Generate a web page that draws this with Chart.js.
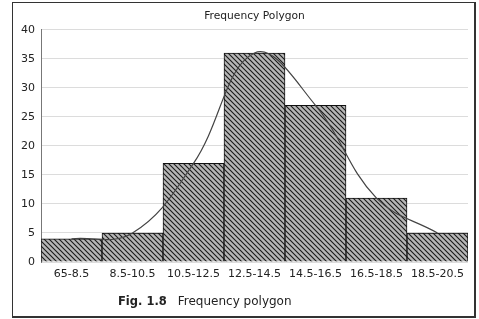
<!DOCTYPE html>
<html>
<head>
<meta charset="utf-8">
<script src="https://cdn.jsdelivr.net/npm/chart.js@4.4.0/dist/chart.umd.min.js"></script>
<style>
    body { margin: 0; background: #fff; }
    #wrap { position: relative; width: 479px; height: 319px; }
    #frame { position: absolute; left: 12px; top: 2px; width: 464px; height: 316px; box-sizing: border-box;
             border-style: solid; border-color: #333; border-width: 1.5px 2px 2px 1.5px; }
    #caption { position: absolute; left: 118px; top: 294px; font: 12px "DejaVu Sans", sans-serif; color: #222; white-space: nowrap; }
    #caption b { margin-right: 11px; font-size: 11.5px; }
</style>
</head>
<body>
<div id="wrap">
    <canvas id="canvas" width="479" height="319"></canvas>
    <div id="frame"></div>
    <div id="caption"><b>Fig. 1.8</b>Frequency polygon</div>
</div>
<script>
var classes = ['65-8.5', '8.5-10.5', '10.5-12.5', '12.5-14.5', '14.5-16.5', '16.5-18.5', '18.5-20.5'];
var frequency = [4, 5, 17, 36, 27, 11, 5];
var yTicks = [0, 5, 10, 15, 20, 25, 30, 35, 40];

// diagonal hatching for the histogram bars
function makeHatch() {
    var tile = document.createElement('canvas');
    tile.width = 5;
    tile.height = 5;
    var t = tile.getContext('2d');
    t.fillStyle = '#b6b6b6';
    t.fillRect(0, 0, 5, 5);
    t.strokeStyle = '#1a1a1a';
    t.lineWidth = 1.1;
    t.beginPath();
    t.moveTo(-1, -1); t.lineTo(6, 6);
    t.moveTo(-1, 4); t.lineTo(1, 6);
    t.moveTo(4, -1); t.lineTo(6, 1);
    t.stroke();
    return t.createPattern(tile, 'repeat');
}

var ctx = document.getElementById('canvas').getContext('2d');

var data = {
    labels: classes,
    datasets: [
        {
            type: 'line',
            data: frequency,
            borderColor: '#444',
            borderWidth: 1.2,
            pointRadius: 0,
            tension: 0.4,
            fill: false,
            order: 0
        },
        {
            type: 'bar',
            data: frequency,
            backgroundColor: makeHatch(),
            borderColor: '#111',
            borderWidth: 1,
            barPercentage: 1,
            categoryPercentage: 1,
            order: 1
        }
    ]
};

var myChart = new Chart(ctx, {
    type: 'bar',
    data: data,
    options: {
        responsive: false,
        animation: false,
        layout: { padding: { left: 0, right: 11, top: 0, bottom: 0 } },
        plugins: {
            legend: { display: false },
            tooltip: { enabled: false },
            title: {
                display: true,
                fullSize: false,
                text: 'Frequency Polygon',
                color: '#222',
                font: { family: 'DejaVu Sans', size: 10.7, weight: 'normal' },
                padding: { top: 10, bottom: 7 }
            }
        },
        scales: {
            x: {
                grid: { display: false, drawTicks: false },
                border: { display: false },
                ticks: {
                    color: '#222',
                    font: { family: 'DejaVu Sans', size: 11 },
                    padding: 6,
                    maxRotation: 0,
                    autoSkip: false
                },
                afterFit: function (scale) { scale.height = 57; }
            },
            y: {
                min: 0,
                max: 40,
                afterBuildTicks: function (scale) {
                    scale.ticks = yTicks.map(function (v) { return { value: v }; });
                },
                grid: { color: '#dcdcdc', drawTicks: false },
                border: { color: '#777', width: 1 },
                ticks: {
                    color: '#222',
                    font: { family: 'DejaVu Sans', size: 11 },
                    padding: 6
                },
                afterFit: function (scale) { scale.width = 41; }
            }
        }
    }
});
</script>
</body>
</html>
